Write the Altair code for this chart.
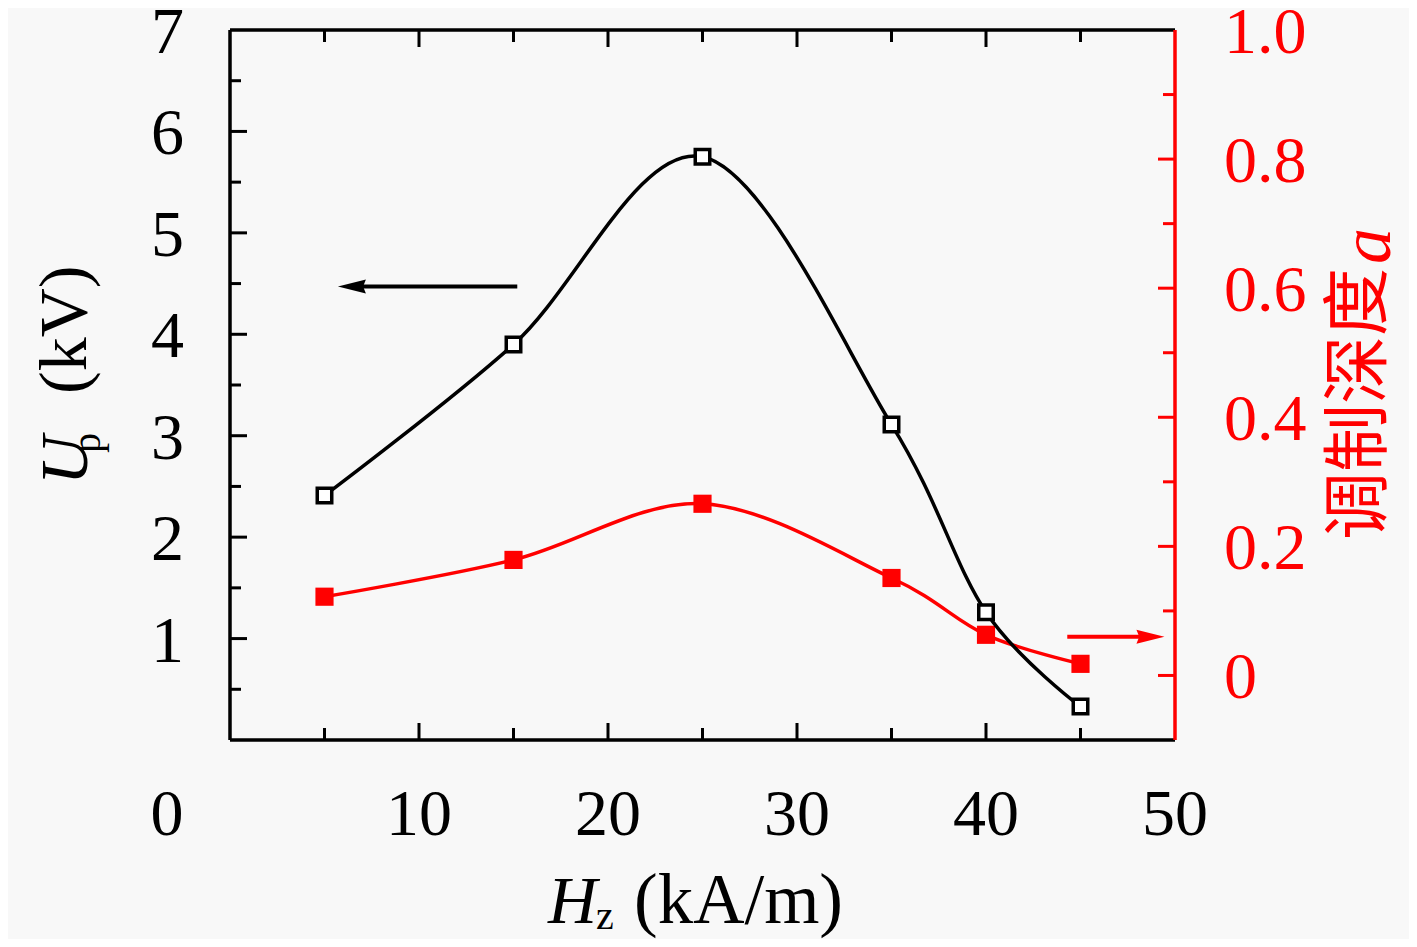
import altair as alt
import pandas as pd

# ---- data ----
hz = [5, 15, 25, 35, 40, 45]
up_kv = [2.41, 3.90, 5.75, 3.11, 1.26, 0.33]
depth_a = [0.122, 0.179, 0.266, 0.151, 0.063, 0.018]

x_labels = [10, 20, 30, 40, 50]
x_major = [10, 20, 30, 40]
x_minor = [5, 15, 25, 35, 45]
yl_labels = [1, 2, 3, 4, 5, 6, 7]
yl_major = [1, 2, 3, 4, 5, 6]
yl_minor = [0.5, 1.5, 2.5, 3.5, 4.5, 5.5, 6.5]
yr_labels = [0, 0.2, 0.4, 0.6, 0.8, 1.0]
yr_label_text = ["0", "0.2", "0.4", "0.6", "0.8", "1.0"]
yr_major = [0, 0.2, 0.4, 0.6, 0.8]
yr_minor = [0.1, 0.3, 0.5, 0.7, 0.9]

arrow_left_x = [15.2, 6.45]
arrow_left_y = [4.47, 4.47]
arrow_right_x = [44.3, 48.7]
arrow_right_y = [0.06, 0.06]

W, H = 945, 710
FONT = "Liberation Serif"
FS = 68
LFS = 66
RED = "#ff0000"

XS = alt.Scale(domain=[0, 50], nice=False, zero=False)
YL = alt.Scale(domain=[0, 7], nice=False, zero=False)
YR = alt.Scale(domain=[-0.1, 1.0], nice=False, zero=False)

df = pd.DataFrame({"hz": hz, "up": up_kv, "a": depth_a})


def xq(field):
    return alt.X(field, type="quantitative", scale=XS, axis=None)


def yl(field):
    return alt.Y(field, type="quantitative", scale=YL, axis=None)


def yr(field):
    return alt.Y(field, type="quantitative", scale=YR, axis=None)


one = pd.DataFrame({"k": [0]})

# ---- red series (right axis) ----
red_line = alt.Chart(df).mark_line(color=RED, strokeWidth=3.5, interpolate="cardinal").encode(
    x=xq("hz"), y=yr("a"))
red_pts = alt.Chart(df).mark_square(color=RED, size=330, opacity=1).encode(
    x=xq("hz"), y=yr("a"))
ra_df = pd.DataFrame({"x": arrow_right_x, "y": arrow_right_y})
red_arrow = alt.Chart(ra_df).mark_line(color=RED, strokeWidth=4).encode(x=xq("x"), y=yr("y"))
red_head = alt.Chart(ra_df.iloc[[1]]).mark_point(
    shape="M1,0L-1,-0.5L-0.8,0L-1,0.5Z", filled=True, color=RED, size=784, opacity=1).encode(
    x=xq("x"), y=yr("y"))

# ---- black series (left axis) ----
black_line = alt.Chart(df).mark_line(color="black", strokeWidth=3.5, interpolate="cardinal").encode(
    x=xq("hz"), y=yl("up"))
black_pts = alt.Chart(df).mark_square(fill="white", stroke="black", strokeWidth=3.5,
                                      size=210, opacity=1).encode(x=xq("hz"), y=yl("up"))
la_df = pd.DataFrame({"x": arrow_left_x, "y": arrow_left_y})
black_arrow = alt.Chart(la_df).mark_line(color="black", strokeWidth=4).encode(x=xq("x"), y=yl("y"))
black_head = alt.Chart(la_df.iloc[[1]]).mark_point(
    shape="M-1,0L1,-0.5L0.8,0L1,0.5Z", filled=True, color="black", size=784, opacity=1).encode(
    x=xq("x"), y=yl("y"))

# ---- inward ticks ----
def vticks(vals, y0, y1, color="black"):
    return alt.Chart(pd.DataFrame({"v": vals})).mark_rule(color=color, strokeWidth=3).encode(
        x=xq("v"), y=alt.value(y0), y2=alt.value(y1))


def lticks(vals, length):
    return alt.Chart(pd.DataFrame({"v": vals})).mark_rule(color="black", strokeWidth=3).encode(
        y=yl("v"), x=alt.value(0), x2=alt.value(length))


def rticks(vals, length):
    return alt.Chart(pd.DataFrame({"v": vals})).mark_rule(color=RED, strokeWidth=3).encode(
        y=yr("v"), x=alt.value(W), x2=alt.value(W - length))


ticks = [
    vticks(x_major, H, H - 17), vticks(x_minor, H, H - 12),
    vticks(x_major, 0, 17), vticks(x_minor, 0, 12),
    lticks(yl_major, 17), lticks(yl_minor, 11),
    rticks(yr_major, 17), rticks(yr_minor, 12),
]

# ---- frame ----
def frame(color, **enc):
    return alt.Chart(one).mark_rule(color=color, strokeWidth=3.5).encode(**enc)


frames = [
    frame("black", x=alt.value(0), x2=alt.value(W), y=alt.value(0)),
    frame("black", x=alt.value(0), x2=alt.value(W), y=alt.value(H)),
    frame("black", y=alt.value(0), y2=alt.value(H), x=alt.value(0)),
    frame(RED, y=alt.value(0), y2=alt.value(H), x=alt.value(W)),
]

# ---- tick labels (placed through the scales) ----
x_lab = alt.Chart(pd.DataFrame({"v": x_labels})).mark_text(
    font=FONT, fontSize=LFS, color="black", align="center", baseline="alphabetic").encode(
    x=xq("v"), y=alt.value(805), text=alt.Text("v:Q", format="d"))
yl_lab = alt.Chart(pd.DataFrame({"v": yl_labels})).mark_text(
    font=FONT, fontSize=LFS, color="black", align="right", baseline="alphabetic", dy=23).encode(
    y=yl("v"), x=alt.value(-46), text=alt.Text("v:Q", format="d"))
yr_lab = alt.Chart(pd.DataFrame({"v": yr_labels, "t": yr_label_text})).mark_text(
    font=FONT, fontSize=LFS, color=RED, align="left", baseline="alphabetic", dy=23).encode(
    y=yr("v"), x=alt.value(W + 49), text="t:N")


def txt(s, x, y, size=FS, italic=False, color="black", font=FONT,
        align="left", baseline="alphabetic", angle=0):
    kw = dict(font=font, fontSize=size, color=color, align=align, baseline=baseline)
    if italic:
        kw["fontStyle"] = "italic"
    if angle:
        kw["angle"] = angle
    return alt.Chart(one).mark_text(**kw).encode(
        x=alt.value(x), y=alt.value(y), text=alt.value(s))


texts = [
    # lone "0" at bottom-left
    txt("0", -63, 805, size=LFS, align="center"),
    # x title: H_z (kA/m)
    txt("H", 318, 893, italic=True),
    txt("z", 366, 899, size=40),
    txt("(kA/m)", 404, 893, size=71),
    # left title: U_p (kV)
    txt("U", -143, 455, italic=True, angle=270),
    txt("p", -130, 423, size=40, angle=270),
    txt("(kV)", -144, 364, angle=270),
    # right title: 调制深度 a
    txt("调制深度", 1131, 374, size=68, color=RED, font="Noto Sans CJK SC",
        align="center", baseline="middle", angle=270),
    txt("a", 1160, 234, size=72, italic=True, color=RED, angle=270),
]

chart = alt.layer(
    red_line, red_arrow, red_head, red_pts,
    black_line, black_arrow, black_head, black_pts,
    *ticks, *frames, x_lab, yl_lab, yr_lab, *texts
).resolve_scale(y="independent").properties(
    width=W, height=H,
    padding={"left": 222, "top": 22, "right": 234, "bottom": 199},
    autosize=alt.AutoSizeParams(type="none"),
    background="#f8f8f8",
).configure_view(stroke=None)

chart.save("out.html", embed_options={"renderer": "svg", "actions": False})
